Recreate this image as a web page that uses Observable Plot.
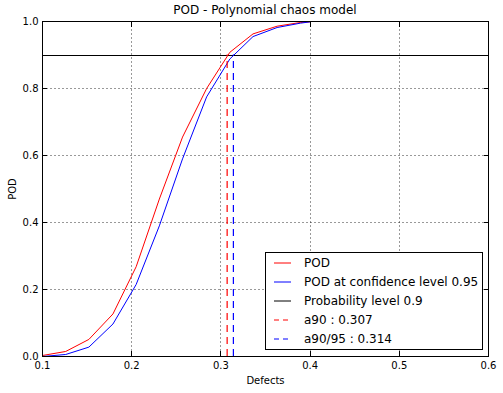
<!DOCTYPE html>
<html><head><meta charset="utf-8">
<script src="https://cdn.jsdelivr.net/npm/d3@7"></script>
<script src="https://cdn.jsdelivr.net/npm/@observablehq/plot@0.6"></script>
<style>
body{margin:0;background:#fff;font-family:"DejaVu Sans",sans-serif;}
#wrap{position:relative;width:503px;height:393px;overflow:hidden;}
#title{position:absolute;left:42px;width:446px;top:3px;text-align:center;font-size:12px;line-height:14px;color:#000;}
#legend{position:absolute;left:265px;top:252px;}
#chart{position:absolute;left:0;top:0;}
</style></head><body>
<div id="wrap"><div id="chart"></div><div id="title">POD - Polynomial chaos model</div><div id="legend"></div></div>
<script>
const defects = [0.1, 0.126, 0.152, 0.179, 0.205, 0.231, 0.257, 0.284, 0.310, 0.336, 0.363, 0.389, 0.4];
const pod     = [0.003, 0.015, 0.051, 0.127, 0.268, 0.47, 0.655, 0.80, 0.908, 0.963, 0.986, 0.997, 0.999];
const podConf = [0.0, 0.006, 0.028, 0.097, 0.215, 0.39, 0.59, 0.775, 0.888, 0.955, 0.982, 0.995, 0.999];
const probabilityLevel = [0.9];
const a90 = [0.307];
const a9095 = [0.314];
const xTicks = [0.1, 0.2, 0.3, 0.4, 0.5, 0.6];
const yTicks = [0.0, 0.2, 0.4, 0.6, 0.8, 1.0];
const legendLabels = ["POD", "POD at confidence level 0.95", "Probability level 0.9", "a90 : 0.307", "a90/95 : 0.314"];
const legendColors = ["#ff0000", "#0000ff", "#000000", "#ff0000", "#0000ff"];
const legendDashed = [false, false, false, true, true];

const rows = defects.map((d, i) => ({d, pod: pod[i], conf: podConf[i]}));
const fmt = d3.format(".1f");
const crisp = {shapeRendering: "crispEdges"};
const gridStyle = {stroke: "#000", strokeOpacity: 0.4, strokeDasharray: "2,2", strokeWidth: 1, ...crisp};

const chart = Plot.plot({
  width: 503, height: 393,
  marginLeft: 42, marginRight: 15, marginTop: 21, marginBottom: 37,
  style: {fontFamily: "DejaVu Sans", fontSize: "10px", color: "#000", background: "#fff"},
  x: {domain: [0.1, 0.6]},
  y: {domain: [0, 1]},
  marks: [
    Plot.gridX(xTicks, gridStyle),
    Plot.gridY(yTicks, gridStyle),
    Plot.ruleY(probabilityLevel, {stroke: "#000", strokeWidth: 1, ...crisp}),
    Plot.line(rows, {x: "d", y: "pod", stroke: "#ff0000", strokeWidth: 1}),
    Plot.line(rows, {x: "d", y: "conf", stroke: "#0000ff", strokeWidth: 1}),
    Plot.ruleX(a90, {x: d => d, y1: 0, y2: probabilityLevel[0], stroke: "#ff0000", strokeWidth: 1.2, strokeDasharray: "7,5"}),
    Plot.ruleX(a9095, {x: d => d, y1: 0, y2: probabilityLevel[0], stroke: "#0000ff", strokeWidth: 1.2, strokeDasharray: "7,5"}),
    Plot.axisX(xTicks, {tickSize: 0, tickPadding: 5, tickFormat: fmt, label: "Defects", labelAnchor: "center", labelArrow: "none", labelOffset: 27}),
    Plot.axisX(xTicks, {tickSize: -5, tickFormat: () => "", label: null, ...crisp}),
    Plot.axisX(xTicks, {anchor: "top", tickSize: -5, tickFormat: () => "", label: null, ...crisp}),
    Plot.axisY(yTicks, {tickSize: 0, tickPadding: 4, tickFormat: fmt, label: "POD", labelAnchor: "center", labelArrow: "none", labelOffset: 34}),
    Plot.axisY(yTicks, {tickSize: -5, tickFormat: () => "", label: null, ...crisp}),
    Plot.axisY(yTicks, {anchor: "right", tickSize: -5, tickFormat: () => "", label: null, ...crisp}),
    Plot.frame({stroke: "#000", strokeWidth: 1, ...crisp})
  ]
});
document.getElementById("chart").appendChild(chart);

// legend
const lw = 218, lh = 98;
const lsvg = d3.select("#legend").append("svg").attr("width", lw).attr("height", lh)
  .style("font-family", "DejaVu Sans").style("font-size", "12px");
lsvg.append("rect").attr("x", 0.5).attr("y", 0.5).attr("width", lw - 1).attr("height", lh - 1)
  .attr("fill", "#fff").attr("stroke", "#000").attr("stroke-width", 1);
legendLabels.forEach((lab, i) => {
  const cy = 11 + i * 19;
  lsvg.append("line").attr("x1", 9).attr("x2", 26).attr("y1", cy).attr("y2", cy)
    .attr("stroke", legendColors[i]).attr("stroke-width", 1)
    .attr("stroke-dasharray", legendDashed[i] ? "5,4" : null);
  lsvg.append("text").attr("x", 39).attr("y", cy).attr("dy", "0.35em").attr("fill", "#000").text(lab);
});
</script>
</body></html>
